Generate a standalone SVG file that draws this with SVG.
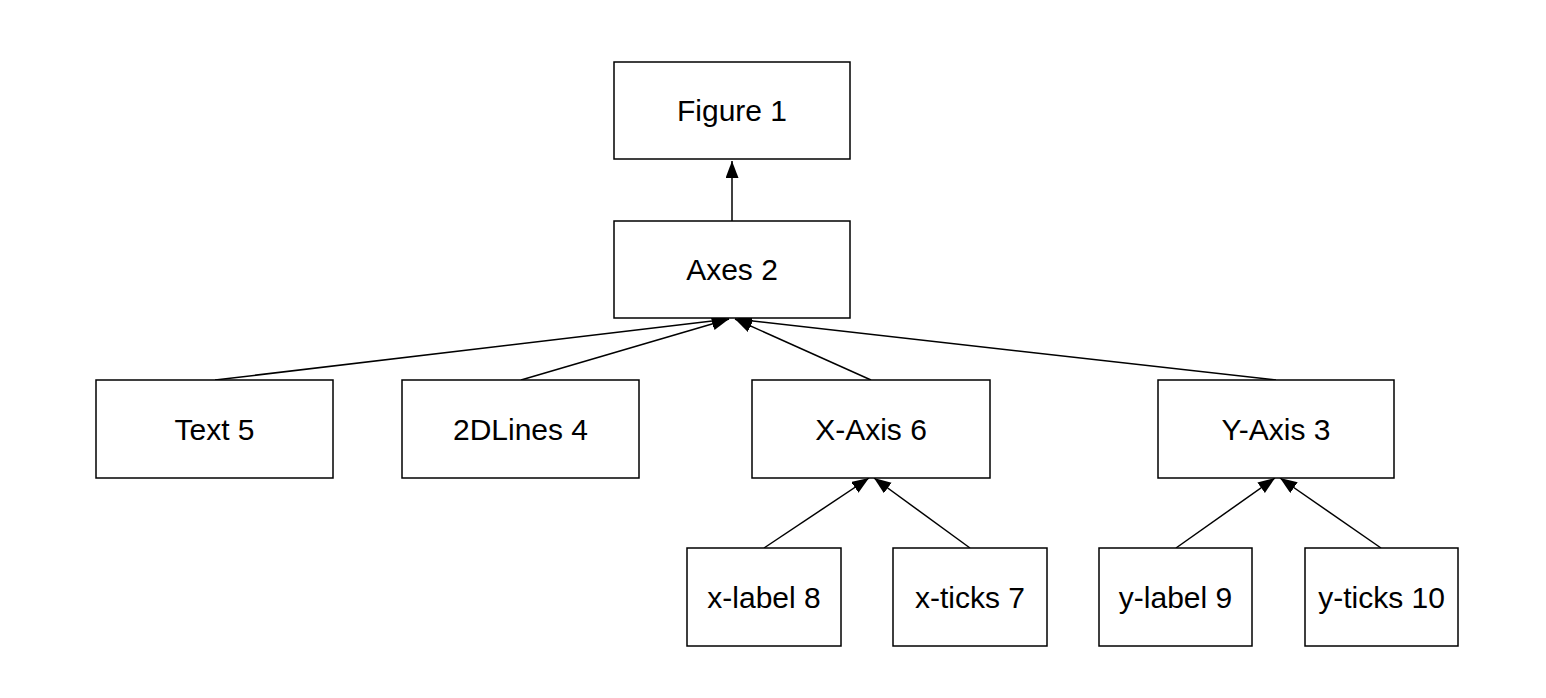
<svg xmlns="http://www.w3.org/2000/svg" width="1546" height="698" viewBox="0 0 1546 698">
<style>
.box{fill:#fff;stroke:#000;stroke-width:1.5}
.lbl{font-family:"Liberation Sans",Arial,sans-serif;font-size:30px;fill:#000;text-anchor:middle;dominant-baseline:central}
.edge{stroke:#000;stroke-width:1.5;fill:none;marker-end:url(#ah)}
</style>
<defs>
<marker id="ah" markerUnits="userSpaceOnUse" markerWidth="19" markerHeight="14" refX="17" refY="6.5" orient="auto">
<path d="M0,0 L17,6.5 L0,13 Z" fill="#000"/>
</marker>
</defs>
<rect width="1546" height="698" fill="#fff"/>
<g id="connectors">
<line class="edge" x1="732" y1="221" x2="732" y2="161"/>
<line class="edge" x1="215" y1="380" x2="729" y2="319"/>
<line class="edge" x1="521" y1="380" x2="729" y2="319"/>
<line class="edge" x1="871" y1="380" x2="735" y2="319"/>
<line class="edge" x1="1276" y1="380" x2="735" y2="319"/>
<line class="edge" x1="764" y1="548" x2="869" y2="478"/>
<line class="edge" x1="970" y1="548" x2="874" y2="478"/>
<line class="edge" x1="1176" y1="548" x2="1275" y2="478"/>
<line class="edge" x1="1381" y1="548" x2="1280" y2="478"/>
</g>
<g id="figure1"><rect class="box" x="614" y="62" width="236" height="97"/><text class="lbl" x="732" y="110.5">Figure 1</text></g>
<g id="axes2"><rect class="box" x="614" y="221" width="236" height="97"/><text class="lbl" x="732" y="269.5">Axes 2</text></g>
<g id="text5"><rect class="box" x="96" y="380" width="237" height="98"/><text class="lbl" x="214.5" y="429">Text 5</text></g>
<g id="lines4"><rect class="box" x="402" y="380" width="237" height="98"/><text class="lbl" x="520.5" y="429">2DLines 4</text></g>
<g id="xaxis6"><rect class="box" x="752" y="380" width="238" height="98"/><text class="lbl" x="871" y="429">X-Axis 6</text></g>
<g id="yaxis3"><rect class="box" x="1158" y="380" width="236" height="98"/><text class="lbl" x="1276" y="429">Y-Axis 3</text></g>
<g id="xlabel8"><rect class="box" x="687" y="548" width="154" height="98"/><text class="lbl" x="764" y="597">x-label 8</text></g>
<g id="xticks7"><rect class="box" x="893" y="548" width="154" height="98"/><text class="lbl" x="970" y="597">x-ticks 7</text></g>
<g id="ylabel9"><rect class="box" x="1099" y="548" width="153" height="98"/><text class="lbl" x="1175.5" y="597">y-label 9</text></g>
<g id="yticks10"><rect class="box" x="1305" y="548" width="153" height="98"/><text class="lbl" x="1381.5" y="597">y-ticks 10</text></g>
</svg>
